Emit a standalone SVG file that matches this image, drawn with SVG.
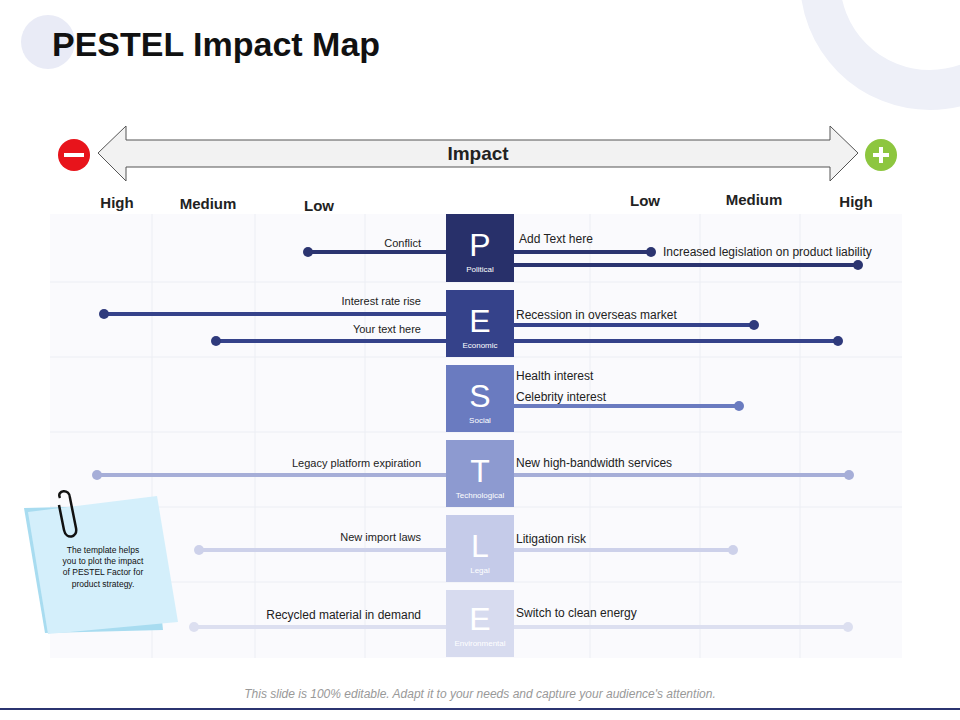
<svg xmlns="http://www.w3.org/2000/svg" width="960" height="720" viewBox="0 0 960 720">
<style>
text{font-family:"Liberation Sans",Arial,sans-serif}
.lvl{font-size:15px;font-weight:bold;fill:#222}
.lab{font-size:11px;fill:#222}
.labr{font-size:12px;fill:#222}
.big{font-size:32px;fill:#fff;text-anchor:middle}
.sm{font-size:8px;fill:#fff;text-anchor:middle}
.g{stroke:#eceef4;stroke-width:1}
</style>
<rect width="960" height="720" fill="#fff"/>
<circle cx="48" cy="42" r="27" fill="#e9ebf6"/>
<circle cx="930" cy="-20" r="110" fill="none" stroke="#eef0f8" stroke-width="40"/>
<text x="52" y="56" font-size="34" font-weight="bold" fill="#111">PESTEL Impact Map</text>
<g id="impact-arrow">
<polygon points="98,153 126,126 126,140 830,140 830,126 858,153 830,181 830,167 126,167 126,181" fill="#f2f2f2" stroke="#555" stroke-width="1"/>
<text x="478" y="160" text-anchor="middle" font-size="19" font-weight="bold" fill="#222">Impact</text>
</g>
<g id="minus"><circle cx="74" cy="155" r="16" fill="#e8141b"/><rect x="64" y="153" width="20" height="4" fill="#fff"/></g>
<g id="plus"><circle cx="881" cy="155" r="16" fill="#8dc63f"/><rect x="873" y="153" width="16" height="4" fill="#fff"/><rect x="879" y="147" width="4" height="16" fill="#fff"/></g>
<g id="levels">
<text class="lvl" x="117" y="208" text-anchor="middle">High</text>
<text class="lvl" x="208" y="209" text-anchor="middle">Medium</text>
<text class="lvl" x="319" y="211" text-anchor="middle">Low</text>
<text class="lvl" x="645" y="206" text-anchor="middle">Low</text>
<text class="lvl" x="754" y="205" text-anchor="middle">Medium</text>
<text class="lvl" x="856" y="207" text-anchor="middle">High</text>
</g>
<g id="grid">
<rect x="50" y="214" width="852" height="444" fill="#fafafd"/>
<line class="g" x1="152" y1="214" x2="152" y2="658"/><line class="g" x1="255" y1="214" x2="255" y2="658"/><line class="g" x1="365" y1="214" x2="365" y2="658"/><line class="g" x1="590" y1="214" x2="590" y2="658"/><line class="g" x1="700" y1="214" x2="700" y2="658"/><line class="g" x1="800" y1="214" x2="800" y2="658"/>
<line class="g" x1="50" y1="282" x2="902" y2="282"/><line class="g" x1="50" y1="357" x2="902" y2="357"/><line class="g" x1="50" y1="432" x2="902" y2="432"/><line class="g" x1="50" y1="507" x2="902" y2="507"/><line class="g" x1="50" y1="582" x2="902" y2="582"/>
</g>
<g id="connectors" stroke-width="4" stroke-linecap="round">
<g stroke="#2b3470" fill="#2b3470">
<line x1="308" y1="252" x2="446" y2="252"/><circle cx="308" cy="252" r="5" stroke="none"/>
<line x1="514" y1="252" x2="651" y2="252"/><circle cx="651" cy="252" r="5" stroke="none"/>
<line x1="514" y1="265" x2="858" y2="265"/><circle cx="858" cy="265" r="5" stroke="none"/>
</g>
<g stroke="#35428a" fill="#2f3a7c">
<line x1="104" y1="314" x2="446" y2="314"/><circle cx="104" cy="314" r="5" stroke="none"/>
<line x1="216" y1="341" x2="446" y2="341"/><circle cx="216" cy="341" r="5" stroke="none"/>
<line x1="514" y1="325" x2="754" y2="325"/><circle cx="754" cy="325" r="5" stroke="none"/>
<line x1="514" y1="341" x2="838" y2="341"/><circle cx="838" cy="341" r="5" stroke="none"/>
</g>
<g stroke="#6a7bc0" fill="#6a7bc0"><line x1="514" y1="406" x2="739" y2="406"/><circle cx="739" cy="406" r="5" stroke="none"/></g>
<g stroke="#a6aed8" fill="#a6aed8">
<line x1="97" y1="475" x2="446" y2="475"/><circle cx="97" cy="475" r="5" stroke="none"/>
<line x1="514" y1="475" x2="849" y2="475"/><circle cx="849" cy="475" r="5" stroke="none"/></g>
<g stroke="#cdd1ea" fill="#cdd1ea">
<line x1="199" y1="550" x2="446" y2="550"/><circle cx="199" cy="550" r="5" stroke="none"/>
<line x1="514" y1="550" x2="733" y2="550"/><circle cx="733" cy="550" r="5" stroke="none"/></g>
<g stroke="#dcdff0" fill="#dcdff0">
<line x1="194" y1="627" x2="446" y2="627"/><circle cx="194" cy="627" r="5" stroke="none"/>
<line x1="514" y1="627" x2="848" y2="627"/><circle cx="848" cy="627" r="5" stroke="none"/></g>
</g>
<g id="labels">
<text class="lab" x="421" y="247" text-anchor="end">Conflict</text>
<text class="labr" x="519" y="243">Add Text here</text>
<text class="labr" x="663" y="256">Increased legislation on product liability</text>
<text class="lab" x="421" y="305" text-anchor="end">Interest rate rise</text>
<text class="lab" x="421" y="333" text-anchor="end">Your text here</text>
<text class="labr" x="516" y="319">Recession in overseas market</text>
<text class="labr" x="516" y="380">Health interest</text>
<text class="labr" x="516" y="401">Celebrity interest</text>
<text class="lab" x="421" y="467" text-anchor="end">Legacy platform expiration</text>
<text class="labr" x="516" y="467">New high-bandwidth services</text>
<text class="lab" x="421" y="541" text-anchor="end">New import laws</text>
<text class="labr" x="516" y="543">Litigation risk</text>
<text class="labr" x="421" y="619" text-anchor="end">Recycled material in demand</text>
<text class="labr" x="516" y="617">Switch to clean energy</text>
</g>
<g id="node-P"><rect x="446" y="214" width="68" height="68" fill="#28306a"/><text class="big" x="480" y="256">P</text><text class="sm" x="480" y="272">Political</text></g>
<g id="node-E"><rect x="446" y="290" width="68" height="67" fill="#35428a"/><text class="big" x="480" y="332">E</text><text class="sm" x="480" y="348">Economic</text></g>
<g id="node-S"><rect x="446" y="365" width="68" height="67" fill="#6a7bc0"/><text class="big" x="480" y="407">S</text><text class="sm" x="480" y="423">Social</text></g>
<g id="node-T"><rect x="446" y="440" width="68" height="67" fill="#8d9ad0"/><text class="big" x="480" y="482">T</text><text class="sm" x="480" y="498">Technological</text></g>
<g id="node-L"><rect x="446" y="515" width="68" height="67" fill="#c5cbe9"/><text class="big" x="480" y="557">L</text><text class="sm" x="480" y="573">Legal</text></g>
<g id="node-E2"><rect x="446" y="590" width="68" height="67" fill="#d7dbef"/><text class="big" x="480" y="630">E</text><text class="sm" x="480" y="646">Environmental</text></g>
<g id="note">
<polygon points="24,508 150,505 163,630 45,633" fill="#a8dcf0"/>
<polygon points="28,512 157,496 178,622 48,634" fill="#d4effb"/>
<path d="M60,498 C56,490 70,488 70,498 L76,528 C78,538 66,540 64,530 L59,505" fill="none" stroke="#111" stroke-width="2.5"/>
<g font-size="8.5" fill="#111" text-anchor="middle"><text x="103" y="553">The  template helps</text><text x="103" y="564">you to plot the impact</text><text x="103" y="575">of PESTEL  Factor for</text><text x="103" y="587">product strategy.</text></g>
</g>
<text x="480" y="698" text-anchor="middle" font-size="12" font-style="italic" fill="#999">This slide is 100% editable. Adapt it to your needs and capture your audience's attention.</text>
<rect x="0" y="708" width="960" height="2" fill="#2b3470"/>
</svg>
